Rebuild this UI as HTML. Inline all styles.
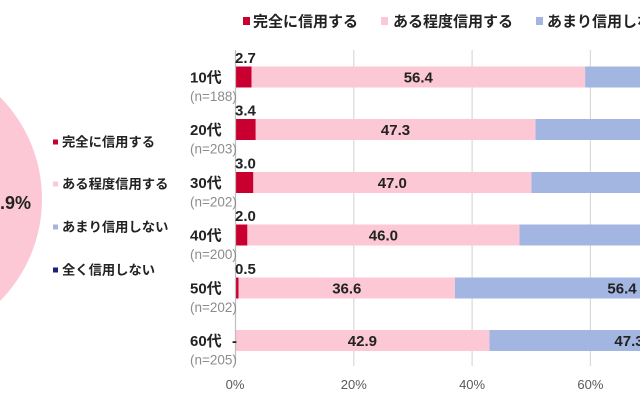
<!DOCTYPE html>
<html><head><meta charset="utf-8">
<style>
html,body{margin:0;padding:0;background:#fff;}
svg{display:block;font-family:"Liberation Sans","Noto Sans CJK JP",sans-serif;}
</style></head>
<body>
<svg width="640" height="402" viewBox="0 0 640 402" xmlns="http://www.w3.org/2000/svg">
<rect width="640" height="402" fill="#fff"/>
<!-- pie fragment -->
<circle cx="-103" cy="199" r="145" fill="#fdc8d5"/>
<text x="0" y="209" font-size="18" font-weight="bold" fill="#222">.9%</text>

<!-- left legend -->
<g font-size="13.3" font-weight="bold" fill="#222">
<rect x="53" y="139.5" width="5" height="5" fill="#c9002f"/>
<text x="62" y="146.5">完全に信用する</text>
<rect x="53" y="181.5" width="5" height="5" fill="#fdc8d5"/>
<text x="62" y="188.5">ある程度信用する</text>
<rect x="53" y="224.5" width="5" height="5" fill="#a2b6e1"/>
<text x="62" y="231.5">あまり信用しない</text>
<rect x="53" y="267.5" width="5" height="5" fill="#1f1f7a"/>
<text x="62" y="274.5">全く信用しない</text>
</g>

<!-- top legend -->
<g font-size="15" font-weight="bold" fill="#222">
<rect x="243" y="17" width="7" height="8" fill="#c9002f"/>
<text x="253" y="26.5">完全に信用する</text>
<rect x="381" y="17" width="7" height="8" fill="#fdc8d5"/>
<text x="393" y="26.5">ある程度信用する</text>
<rect x="536" y="17" width="7" height="8" fill="#a2b6e1"/>
<text x="547" y="26.5">あまり信用しない</text>
</g>

<!-- gridlines -->
<g stroke="#d9d9d9" stroke-width="1.2">
<line x1="353.8" y1="50" x2="353.8" y2="366"/>
<line x1="472.1" y1="50" x2="472.1" y2="366"/>
<line x1="590.4" y1="50" x2="590.4" y2="366"/>
</g>

<!-- bars -->
<g>
<rect x="585.1" y="66.5" width="60" height="21" fill="#a2b6e1"/>
<rect x="251.5" y="66.5" width="333.6" height="21" fill="#fdc8d5"/>
<rect x="235.5" y="66.5" width="16" height="21" fill="#c9002f"/>
<rect x="535.4" y="119" width="110" height="21" fill="#a2b6e1"/>
<rect x="255.6" y="119" width="279.8" height="21" fill="#fdc8d5"/>
<rect x="235.5" y="119" width="20.1" height="21" fill="#c9002f"/>
<rect x="531.3" y="172" width="115" height="21" fill="#a2b6e1"/>
<rect x="253.2" y="172" width="278.1" height="21" fill="#fdc8d5"/>
<rect x="235.5" y="172" width="17.7" height="21" fill="#c9002f"/>
<rect x="519.4" y="224.5" width="125" height="21" fill="#a2b6e1"/>
<rect x="247.3" y="224.5" width="272.1" height="21" fill="#fdc8d5"/>
<rect x="235.5" y="224.5" width="11.8" height="21" fill="#c9002f"/>
<rect x="455" y="277.5" width="190" height="21" fill="#a2b6e1"/>
<rect x="238.5" y="277.5" width="216.5" height="21" fill="#fdc8d5"/>
<rect x="235.5" y="277.5" width="3" height="21" fill="#c9002f"/>
<rect x="489.3" y="330" width="160" height="21" fill="#a2b6e1"/>
<rect x="235.5" y="330" width="253.8" height="21" fill="#fdc8d5"/>
</g>

<!-- axis line -->
<line x1="235.5" y1="50" x2="235.5" y2="360" stroke="#bfbfbf" stroke-width="1.2"/>

<!-- row labels -->
<g font-size="15" font-weight="bold" fill="#222">
<text x="190" y="82.5">10代</text>
<text x="190" y="135">20代</text>
<text x="190" y="188">30代</text>
<text x="190" y="240.5">40代</text>
<text x="190" y="293.5">50代</text>
<text x="190" y="346">60代</text>
</g>
<g font-size="13.5" fill="#8c8c8c">
<text x="190" y="101">(n=188)</text>
<text x="190" y="153.5">(n=203)</text>
<text x="190" y="206.5">(n=202)</text>
<text x="190" y="259">(n=200)</text>
<text x="190" y="312">(n=202)</text>
<text x="190" y="364.5">(n=205)</text>
</g>

<!-- values above red -->
<g font-size="15" font-weight="bold" fill="#222">
<text x="235" y="63">2.7</text>
<text x="235" y="115.5">3.4</text>
<text x="235" y="168.5">3.0</text>
<text x="235" y="221">2.0</text>
<text x="235" y="274">0.5</text>
<text x="232" y="346">-</text>
</g>

<!-- values inside -->
<g font-size="15" font-weight="bold" fill="#222" text-anchor="middle">
<text x="418.3" y="82.5">56.4</text>
<text x="395.5" y="135">47.3</text>
<text x="392.3" y="188">47.0</text>
<text x="383.4" y="240.5">46.0</text>
<text x="346.8" y="293.5">36.6</text>
<text x="362.4" y="346">42.9</text>
<text x="622" y="293.5">56.4</text>
<text x="629" y="346">47.3</text>
</g>

<!-- axis ticks -->
<g font-size="13" fill="#595959" text-anchor="middle">
<text x="235" y="389">0%</text>
<text x="353.8" y="389">20%</text>
<text x="472.1" y="389">40%</text>
<text x="590.4" y="389">60%</text>
</g>
</svg>
</body></html>
